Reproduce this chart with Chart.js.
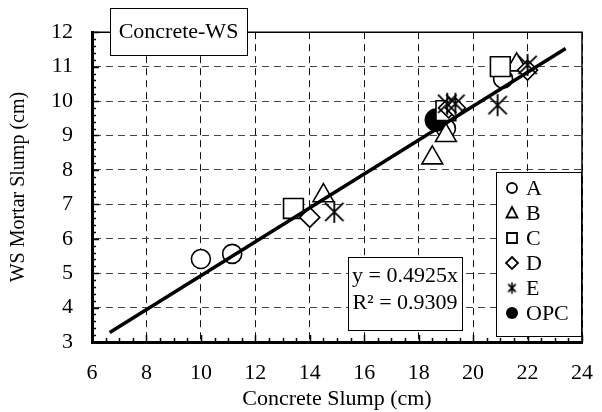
<!DOCTYPE html>
<html><head><meta charset="utf-8">
<script src="https://cdn.jsdelivr.net/npm/chart.js@4/dist/chart.umd.min.js"></script>
<style>html,body{margin:0;padding:0;background:#fff}#wrap{width:602px;height:412px}</style>
</head><body><div id="wrap"><canvas id="c" width="602" height="412"></canvas></div>
<script>
// ---- data ----
const seriesNames = ['A', 'B', 'C', 'D', 'E', 'OPC'];
const A_x = [10.0, 11.15, 19.0, 21.1];
const A_y = [5.41, 5.56, 9.2, 10.65];
const B_x = [14.5, 18.5, 19.0, 21.6];
const B_y = [7.25, 8.35, 9.0, 11.05];
const C_x = [13.4, 19.0, 21.0];
const C_y = [6.88, 9.72, 11.0];
const D_x = [14.0, 19.1, 19.35, 22.0];
const D_y = [6.62, 9.8, 9.8, 10.9];
const E_x = [14.9, 19.05, 19.35, 20.9, 22.0];
const E_y = [6.78, 9.92, 9.92, 9.88, 11.05];
const OPC_x = [18.65];
const OPC_y = [9.45];
const fitSlope = 0.4925;
const fitR2 = 0.9309;
const fitRangeX = [6.65, 23.4];
const xTicks = [6, 8, 10, 12, 14, 16, 18, 20, 22, 24];
const yTicks = [3, 4, 5, 6, 7, 8, 9, 10, 11, 12];
const xTitle = 'Concrete Slump (cm)';
const yTitle = 'WS Mortar Slump (cm)';
const boxTitle = 'Concrete-WS';

const FONT = "'Liberation Serif', 'Times New Roman', serif";
const pts = (xs, ys) => xs.map((v, i) => ({x: v, y: ys[i]}));

function starCanvas(size, lw) {
  const c = document.createElement('canvas');
  c.width = size; c.height = size;
  const g = c.getContext('2d');
  g.strokeStyle = '#000'; g.lineWidth = lw;
  const m = lw, s = size;
  g.beginPath();
  g.moveTo(s / 2, m * 0.5); g.lineTo(s / 2, s - m * 0.5);
  g.moveTo(m + 1, m + 1); g.lineTo(s - m - 1, s - m - 1);
  g.moveTo(s - m - 1, m + 1); g.lineTo(m + 1, s - m - 1);
  g.stroke();
  return c;
}
const starBig = starCanvas(24, 1.8);
const starSmall = starCanvas(13, 1.7);

const fitPts = fitRangeX.map(v => ({x: v, y: fitSlope * v}));

const markerDefs = {
  A: {style: 'circle', r: 9.5, fill: '#fff', order: 6},
  B: {style: 'triangle', r: 12, fill: '#fff', order: 4},
  C: {style: 'rect', r: 14, fill: '#fff', order: 3},
  D: {style: 'rectRot', r: 10, fill: '#fff', order: 2},
  E: {style: starBig, r: 12, fill: '#fff', order: 1},
  OPC: {style: 'circle', r: 11, fill: '#000', order: 5}
};
const seriesData = {A: pts(A_x, A_y), B: pts(B_x, B_y), C: pts(C_x, C_y), D: pts(D_x, D_y), E: pts(E_x, E_y), OPC: pts(OPC_x, OPC_y)};

const datasets = seriesNames.map(n => ({
  label: n,
  data: seriesData[n],
  pointStyle: markerDefs[n].style,
  pointRadius: markerDefs[n].r,
  pointHoverRadius: markerDefs[n].r,
  pointBorderWidth: 1.6,
  borderColor: '#000',
  backgroundColor: markerDefs[n].fill,
  order: markerDefs[n].order,
  showLine: false
}));
datasets.push({
  label: 'fit',
  data: fitPts,
  showLine: true,
  borderColor: '#000',
  borderWidth: 3.5,
  pointRadius: 0,
  order: 0
});

function legendMarker(ctx, name, cx, cy) {
  ctx.save();
  ctx.lineWidth = 1.8; ctx.strokeStyle = '#000'; ctx.fillStyle = '#fff';
  ctx.beginPath();
  if (name === 'A') { ctx.arc(cx, cy, 5, 0, Math.PI * 2); ctx.stroke(); }
  else if (name === 'OPC') { ctx.fillStyle = '#000'; ctx.arc(cx, cy, 6, 0, Math.PI * 2); ctx.fill(); }
  else if (name === 'B') { ctx.moveTo(cx, cy - 6); ctx.lineTo(cx + 5.5, cy + 4.5); ctx.lineTo(cx - 5.5, cy + 4.5); ctx.closePath(); ctx.stroke(); }
  else if (name === 'C') { ctx.rect(cx - 5, cy - 5, 10, 10); ctx.stroke(); }
  else if (name === 'D') { ctx.moveTo(cx, cy - 6); ctx.lineTo(cx + 6, cy); ctx.lineTo(cx, cy + 6); ctx.lineTo(cx - 6, cy); ctx.closePath(); ctx.stroke(); }
  else if (name === 'E') { ctx.drawImage(starSmall, cx - 6.5, cy - 6.5); }
  ctx.restore();
}

const decor = {
  id: 'decor',
  afterDraw(chart) {
    const {ctx, chartArea: a, scales: {x, y}} = chart;
    ctx.save();
    // top and right frame
    ctx.strokeStyle = '#000'; ctx.lineWidth = 1.5;
    ctx.beginPath();
    ctx.moveTo(a.left, a.top); ctx.lineTo(a.right, a.top); ctx.lineTo(a.right, a.bottom);
    ctx.stroke();
    // inside ticks (major + minor)
    ctx.lineWidth = 1.5;
    ctx.beginPath();
    for (let i = 0; i <= (x.max - x.min) / 0.5 + 1e-6; i++) {
      const v = x.min + i * 0.5;
      const px = Math.round(x.getPixelForValue(v)) + 0.5;
      const major = Math.abs(v / 2 - Math.round(v / 2)) < 1e-6;
      ctx.moveTo(px, a.bottom); ctx.lineTo(px, a.bottom - (major ? 7 : 4));
    }
    for (let i = 0; i <= (y.max - y.min) / 0.2 + 1e-6; i++) {
      const v = y.min + i * 0.2;
      const py = Math.round(y.getPixelForValue(v)) + 0.5;
      const major = Math.abs(v - Math.round(v)) < 1e-6;
      ctx.moveTo(a.left, py); ctx.lineTo(a.left + (major ? 7 : 4), py);
    }
    ctx.stroke();

    // title box
    ctx.fillStyle = '#fff'; ctx.strokeStyle = '#000'; ctx.lineWidth = 1;
    ctx.fillRect(110, 8, 137, 47); ctx.strokeRect(110.5, 8.5, 137, 47);
    ctx.fillStyle = '#000'; ctx.font = '22px ' + FONT; ctx.textAlign = 'center'; ctx.textBaseline = 'middle';
    ctx.fillText(boxTitle, 178.5, 32);

    // equation box
    ctx.fillStyle = '#fff';
    ctx.fillRect(348, 257, 114, 73); ctx.strokeRect(348.5, 257.5, 114, 73);
    ctx.fillStyle = '#000';
    ctx.fillText('y = ' + fitSlope + 'x', 405, 276);
    ctx.fillText('R\u00B2 = ' + fitR2, 405, 303);

    // legend box
    const lx = 496, ly = 172, lw = a.right - 497, lh = 164;
    ctx.fillStyle = '#fff';
    ctx.fillRect(lx, ly, lw, lh); ctx.strokeRect(lx + 0.5, ly + 0.5, lw, lh);
    ctx.textAlign = 'left';
    seriesNames.forEach((n, i) => {
      const cy = 188 + i * 25;
      legendMarker(ctx, n, 512, cy);
      ctx.fillStyle = '#000';
      ctx.fillText(n, 526, cy + 1);
    });
    ctx.restore();
  }
};

new Chart(document.getElementById('c'), {
  type: 'scatter',
  data: {datasets},
  options: {
    responsive: false,
    animation: false,
    devicePixelRatio: 1,
    layout: {padding: {top: 28, right: 20, left: 0, bottom: 0}},
    plugins: {legend: {display: false}, tooltip: {enabled: false}},
    scales: {
      x: {
        type: 'linear', min: xTicks[0], max: xTicks[xTicks.length - 1],
        afterBuildTicks: s => { s.ticks = xTicks.map(v => ({value: v})); },
        afterFit: s => { s.height = 70; s.paddingLeft = 0; s.paddingRight = 0; },
        ticks: {color: '#000', font: {family: FONT, size: 22}, padding: 18, maxRotation: 0},
        grid: {color: '#111', lineWidth: 1, drawTicks: false},
        border: {color: '#000', width: 3, dash: [7, 5]},
        title: {display: true, text: xTitle, color: '#000', font: {family: FONT, size: 22}, padding: {top: 0, bottom: 0}}
      },
      y: {
        type: 'linear', min: yTicks[0], max: yTicks[yTicks.length - 1],
        afterBuildTicks: s => { s.ticks = yTicks.map(v => ({value: v})); },
        afterFit: s => { s.width = 92; },
        ticks: {color: '#000', font: {family: FONT, size: 22}, padding: 19},
        grid: {color: '#444', lineWidth: 1, drawTicks: false},
        border: {color: '#000', width: 3, dash: [7, 5]},
        title: {display: true, text: yTitle, color: '#000', font: {family: FONT, size: 20}, padding: {top: 7, bottom: 0}}
      }
    }
  },
  plugins: [decor]
});
</script></body></html>
